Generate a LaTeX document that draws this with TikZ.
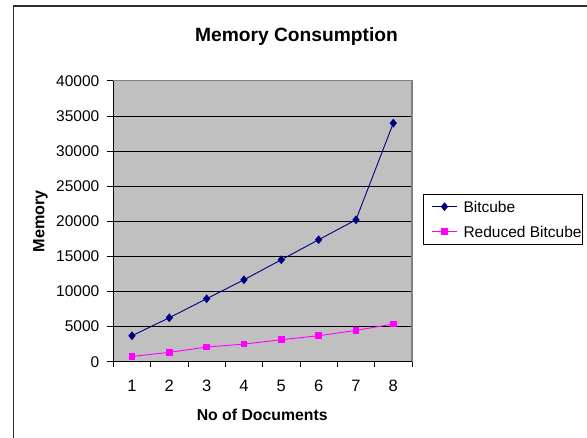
\documentclass[tikz,border=0pt]{standalone}
\usepackage{fontspec}
\setmainfont{Liberation Sans}
\usetikzlibrary{shapes.geometric}
\definecolor{plotgray}{HTML}{C0C0C0}
\definecolor{plotedge}{HTML}{808080}
\definecolor{navyc}{HTML}{000080}
\definecolor{magc}{HTML}{FF00FF}
\definecolor{framec}{HTML}{303030}
\begin{document}
\begin{tikzpicture}[x=1pt,y=-1pt,
  dia/.style={diamond, fill=navyc, inner sep=0pt, minimum width=7.5pt, minimum height=9pt},
  sqm/.style={rectangle, fill=magc, inner sep=0pt, minimum size=6.5pt},
  bcline/.style={navyc, line width=0.9pt},
  rbline/.style={magc, line width=0.9pt},
  ylab/.style={anchor=east, inner sep=0pt, font=\fontsize{15.5}{18}\selectfont},
  xlab/.style={anchor=base, inner sep=0pt, font=\fontsize{16.5}{19}\selectfont},
  grid/.style={black, line width=0.8pt},
  axis/.style={black, line width=0.8pt},
  legtext/.style={anchor=base west, inner sep=0pt, font=\fontsize{15.5}{18}\selectfont}]
\useasboundingbox (0,0) rectangle (587,438);
% outer chart frame
\draw[framec, line width=1.4pt] (13.3,438) -- (13.3,6) -- (587,6);
% plot area (values in thousands)
\fill[plotgray] (113.3,80.7) rectangle (412,361.7);
\foreach \v in {5,10,...,35}
  \draw[grid] (113.3,{361.7-\v*7.02}) -- (412,{361.7-\v*7.02});
\draw[plotedge, line width=1.3pt] (113.3,80.7) -- (412,80.7) -- (412,361.7);
% axes
\draw[axis] (113.3,80.7) -- (113.3,361.7) -- (412,361.7);
\foreach \v/\t in {0/0,5/5000,10/10000,15/15000,20/20000,25/25000,30/30000,35/35000,40/40000} {
  \draw[axis] (106.5,{361.7-\v*7.02}) -- (113.3,{361.7-\v*7.02});
  \node[ylab] at (99.5,{361.7-\v*7.02}) {\t};
}
\foreach \i in {0,...,8}
  \draw[axis] ({113.3+\i*37.33},361.7) -- ({113.3+\i*37.33},367.3);
\foreach \i in {1,...,8}
  \node[xlab] at ({113.3+(\i-0.5)*37.33},391.8) {\i};
% data
\foreach \i/\v in {1/3.70,2/6.26,3/8.97,4/11.67,5/14.52,6/17.37,7/20.21,8/33.98}
  \coordinate (b\i) at ({113.3+(\i-0.5)*37.33},{361.7-\v*7.02});
\foreach \i/\v in {1/0.75,2/1.33,3/2.09,4/2.51,5/3.13,6/3.70,7/4.46,8/5.36}
  \coordinate (r\i) at ({113.3+(\i-0.5)*37.33},{361.7-\v*7.02});
\draw[bcline] (b1) -- (b2) -- (b3) -- (b4) -- (b5) -- (b6) -- (b7) -- (b8);
\draw[rbline] (r1) -- (r2) -- (r3) -- (r4) -- (r5) -- (r6) -- (r7) -- (r8);
\foreach \i in {1,...,8} {
  \node[dia] (bm\i) at (b\i) {};
  \node[sqm] (rm\i) at (r\i) {};
}
% titles
\node[font=\fontsize{19.2}{22}\selectfont\bfseries, anchor=base, inner sep=0pt] (title) at (296.5,41.7) {Memory Consumption};
\node[font=\fontsize{15.8}{18}\selectfont\bfseries, anchor=base, inner sep=0pt] (xtitle) at (262.2,421) {No of Documents};
\node[font=\fontsize{16.2}{18}\selectfont\bfseries, anchor=base, inner sep=0pt, rotate=90] (ytitle) at (44.3,221.3) {Memory};
% legend
\draw[black, line width=0.8pt] (423.3,194) rectangle (582.7,244.3);
\coordinate (la1) at (431.7,206.7); \coordinate (lb1) at (457.3,206.7);
\coordinate (la2) at (431.7,231.7); \coordinate (lb2) at (457.3,231.7);
\draw[bcline] (la1) -- (lb1);
\node[dia] (lm1) at (444.5,206.7) {};
\draw[rbline] (la2) -- (lb2);
\node[sqm] (lm2) at (444.5,231.7) {};
\node[legtext] (lt1) at (463.3,212.3) {Bitcube};
\node[legtext] (lt2) at (463.3,237.3) {Reduced Bitcube};
\end{tikzpicture}
\end{document}
